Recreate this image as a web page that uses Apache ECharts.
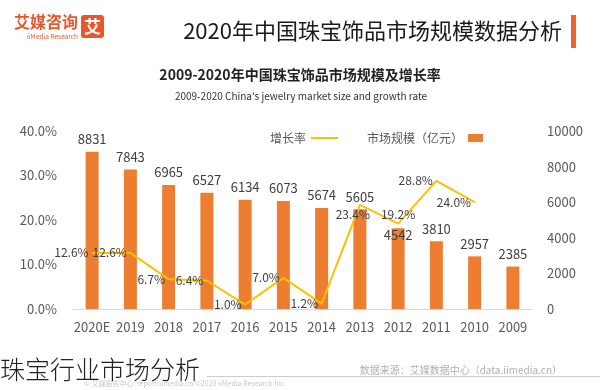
<!DOCTYPE html>
<html>
<head>
<meta charset="utf-8">
<script src="https://cdn.jsdelivr.net/npm/echarts@6/dist/echarts.min.js"></script>
<style>
html,body{margin:0;padding:0;background:#fff;}
#chart{width:600px;height:390px;}
</style>
</head>
<body>
<div id="chart"></div>
<script>
var years = ['2009','2010','2011','2012','2013','2014','2015','2016','2017','2018','2019','2020E'];
var marketSize = [2385, 2957, 3810, 4542, 5605, 5674, 6073, 6134, 6527, 6965, 7843, 8831];
var growthRate = [null, 24.0, 28.8, 19.2, 23.4, 1.2, 7.0, 1.0, 6.4, 6.7, 12.6, 12.6];
var pctTicks = [0, 10, 20, 30, 40];
var sizeTicks = [0, 2000, 4000, 6000, 8000, 10000];

var FONT = "'Noto Sans CJK SC','Noto Sans',sans-serif";
var chart = echarts.init(document.getElementById('chart'), null, {renderer:'canvas'});

var barData = marketSize.map(function(v, i){
  if (years[i] === '2012') return {value: v, label: {position: 'insideTop', distance: 0}};
  return v;
});
var lineData = growthRate.map(function(v, i){
  if (v === null) return '-';
  if (years[i] === '2013') return {value: v, label: {position: 'bottom', offset: [-7, 0]}};
  if (years[i] === '2012') return {value: v, label: {position: 'top'}};
  return v;
});

var option = {
  animation: false,
  textStyle: {fontFamily: FONT},
  grid: {left: 73, right: 68, top: 131, bottom: 81, containLabel: false},
  legend: [
    {
      left: 265, top: 127, align: 'right', itemWidth: 27, itemHeight: 2,
      textStyle: {fontSize: 12, color: '#595959', fontFamily: FONT},
      data: [{name: '增长率', icon: 'rect', itemStyle: {color: '#FFC000'}}]
    },
    {
      left: 362, top: 127, align: 'right', itemWidth: 15, itemHeight: 8,
      textStyle: {fontSize: 12, color: '#595959', fontFamily: FONT},
      data: [{name: '市场规模（亿元）', icon: 'rect'}]
    }
  ],
  xAxis: {
    type: 'category', data: years, inverse: true,
    axisLine: {lineStyle: {color: '#d9d9d9'}},
    axisTick: {show: false},
    axisLabel: {color: '#595959', fontSize: 13, margin: 12, interval: 0, fontFamily: FONT}
  },
  yAxis: [
    {
      type: 'value', position: 'left', min: pctTicks[0], max: pctTicks[pctTicks.length-1], interval: 10,
      splitLine: {show: false}, axisLine: {show: false}, axisTick: {show: false},
      axisLabel: {color: '#595959', fontSize: 13, margin: 16, fontFamily: FONT,
        formatter: function(v){ return v.toFixed(1) + '%'; }}
    },
    {
      type: 'value', position: 'right', min: sizeTicks[0], max: sizeTicks[sizeTicks.length-1], interval: 2000,
      splitLine: {show: false}, axisLine: {show: false}, axisTick: {show: false},
      axisLabel: {color: '#595959', fontSize: 13, margin: 15, fontFamily: FONT,
        formatter: function(v){ return String(v); }}
    }
  ],
  series: [
    {
      name: '市场规模（亿元）', type: 'bar', yAxisIndex: 1, barWidth: 13,
      itemStyle: {color: '#ED7D31'},
      label: {show: true, position: 'top', distance: 6, fontSize: 13, color: '#404040', fontFamily: FONT},
      data: barData, z: 2
    },
    {
      name: '增长率', type: 'line', yAxisIndex: 0,
      symbol: 'circle', symbolSize: 1, showSymbol: true,
      itemStyle: {color: '#FFC000'},
      lineStyle: {color: '#FFC000', width: 2},
      label: {show: true, position: 'left', distance: 3, fontSize: 12, color: '#404040', fontFamily: FONT,
        formatter: function(p){ return Number(p.value).toFixed(1) + '%'; }},
      data: lineData, z: 3
    }
  ],
  graphic: [
    {type: 'text', right: 38, top: 20,
      style: {text: '2020年中国珠宝饰品市场规模数据分析', font: 'normal 22px ' + FONT, fill: '#1a1a1a'}},
    {type: 'rect', shape: {x: 571, y: 15, width: 5, height: 33}, style: {fill: '#F0652F'}},
    {type: 'rect', shape: {x: 81, y: 15, width: 23, height: 23, r: 3}, style: {fill: '#E8572C'}},
    {type: 'text', x: 92.5, y: 26.5, style: {text: '艾', font: 'bold 17px ' + FONT, fill: '#fff', align: 'center', verticalAlign: 'middle'}},
    {type: 'text', x: 78, y: 22, style: {text: '艾媒咨询', font: 'bold 16px ' + FONT, fill: '#E8572C', align: 'right', verticalAlign: 'middle'}},
    {type: 'text', x: 78, y: 36.5, style: {text: 'iiMedia Research', font: 'normal 6.5px ' + FONT, fill: '#E8572C', align: 'right', verticalAlign: 'middle'}},
    {type: 'text', x: 300, y: 75, style: {text: '2009-2020年中国珠宝饰品市场规模及增长率', font: 'bold 14px ' + FONT, fill: '#222', align: 'center', verticalAlign: 'middle'}},
    {type: 'text', x: 301, y: 96, style: {text: "2009-2020 China's jewelry market size and growth rate", font: 'normal 10px ' + FONT, fill: '#333', align: 'center', verticalAlign: 'middle'}},
    {type: 'line', shape: {x1: 207, y1: 376.5, x2: 600, y2: 376.5}, style: {stroke: '#cccccc', lineWidth: 1}},
    {type: 'text', x: 0, y: 369, style: {text: '珠宝行业市场分析', font: '300 25px ' + FONT, fill: '#222', align: 'left', verticalAlign: 'middle'}},
    {type: 'text', x: 562, y: 370, style: {text: '数据来源：艾媒数据中心（data.iimedia.cn）', font: 'normal 10px ' + FONT, fill: '#b0b0b0', align: 'right', verticalAlign: 'middle'}},
    {type: 'text', x: 84, y: 383, style: {text: '© 艾媒报告中心: report.iimedia.cn ©2020 iiMedia Research Inc', font: 'normal 7px ' + FONT, fill: '#c8c8c8', align: 'left', verticalAlign: 'middle'}}
  ]
};
chart.setOption(option);
</script>
</body>
</html>
